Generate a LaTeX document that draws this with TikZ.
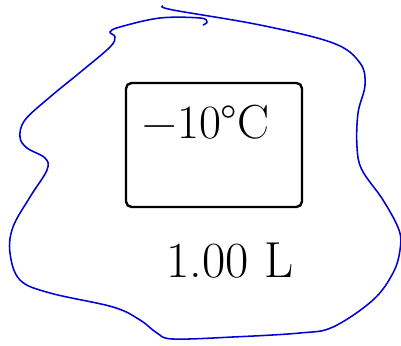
\documentclass[tikz,border=0pt]{standalone}
\usepackage{tikz}
\usetikzlibrary{positioning}

\begin{document}
\begin{tikzpicture}[
    x=0.025cm, y=-0.025cm,
    % Styles
    boundary/.style={
        draw=blue!85!black,
        line width=1.1pt
    },
    tank/.style={
        rectangle,
        draw=black,
        line width=1.7pt,
        rounded corners=4pt,
        minimum width=4.4cm,
        minimum height=3.1cm
    },
    hand/.style={
        font=\fontsize{#1}{#1}\selectfont,
        inner sep=0pt
    },
    hand/.default=30
]

% Frame
\useasboundingbox (0,0) rectangle (401,346);

% Surroundings
\draw[boundary] plot[smooth, tension=0.6] coordinates {
    (163,6) (173,10) (260,25) (333,43) (360,63) (365,85) (358,113)
    (357,147) (362,170) (383,200) (399,230) (400,250) (393,273)
    (373,300) (333,327) (300,333) (233,337) (173,339) (157,333)
    (140,320) (113,307) (50,293) (20,280) (10,253) (13,227) (30,197)
    (47,170) (45,158) (27,148) (20,137) (25,120) (50,97) (83,70)
    (110,47) (115,37) (110,32) (120,27) (160,18) (200,18) (207,22)
    (203,25)};

% System
\node[hand=34] (temp) at (206,122) {−10°C};
\node[tank] (system) at (214,145) {};
\node[hand=36] (volume) at (230,261) {1.00 L};

\end{tikzpicture}
\end{document}
